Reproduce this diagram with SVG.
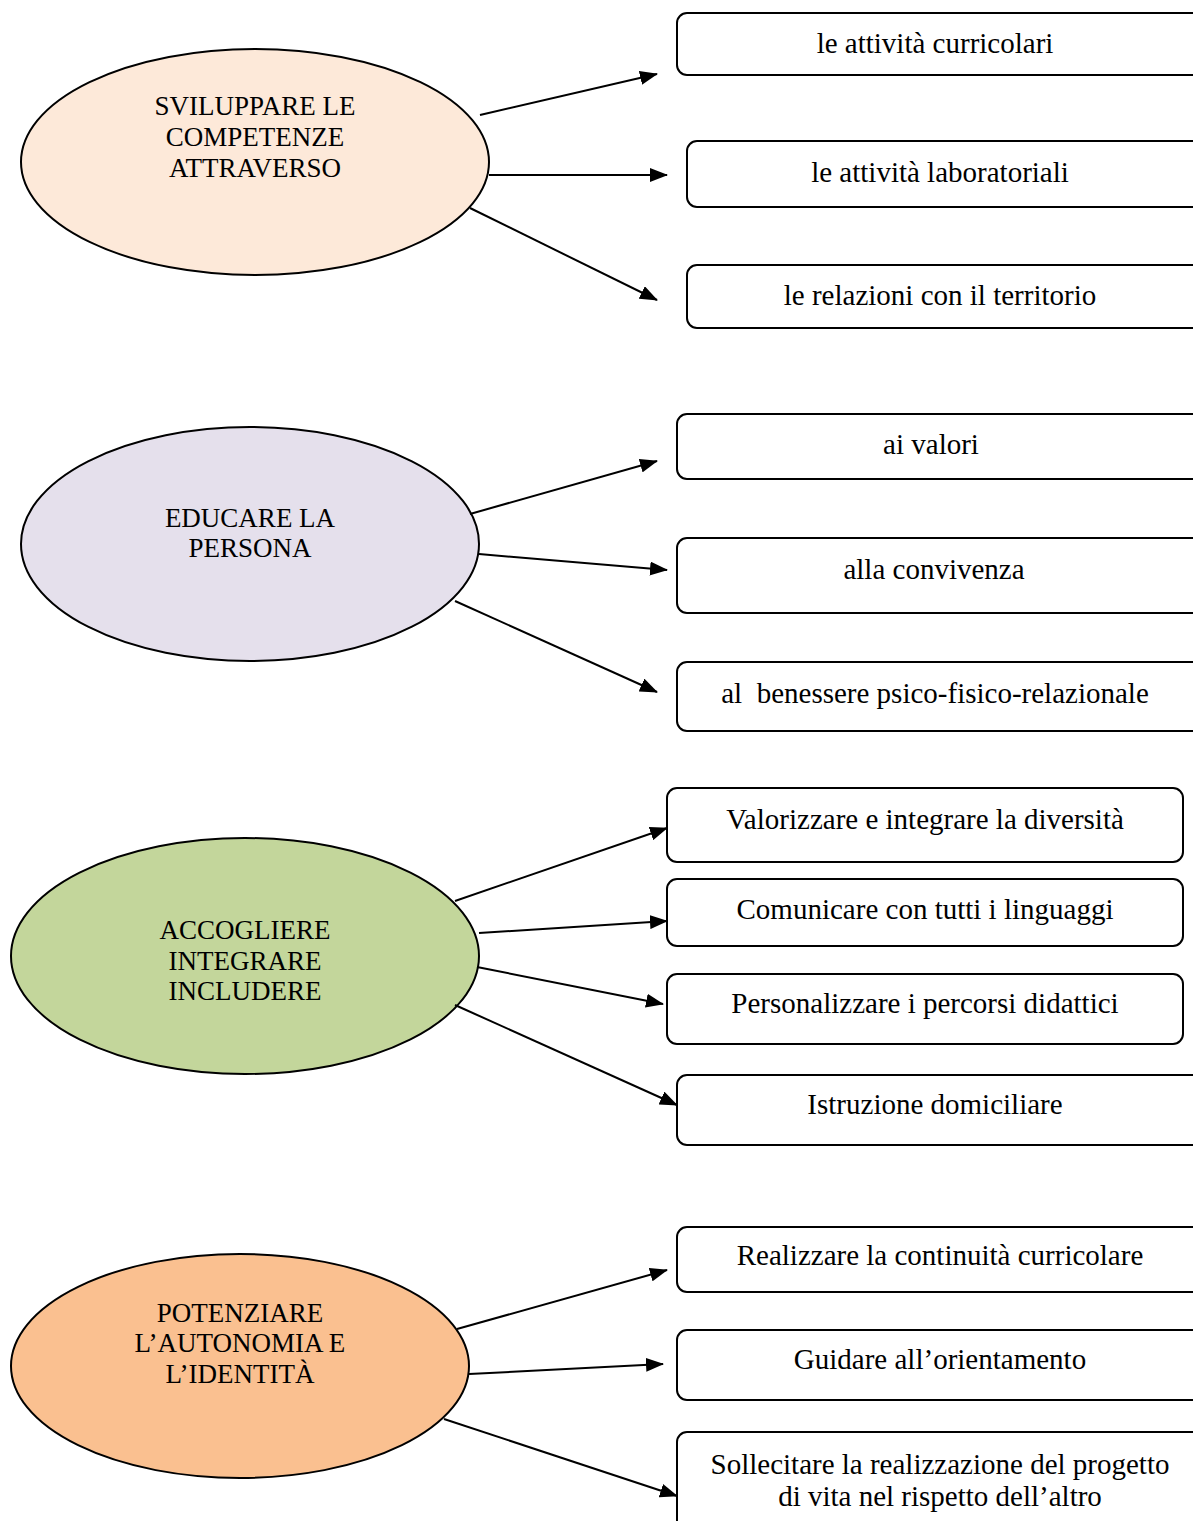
<svg xmlns="http://www.w3.org/2000/svg" width="1193" height="1521" viewBox="0 0 1193 1521">
<style>
.ell{stroke:#000;stroke-width:2}
.box{fill:#fff;stroke:#000;stroke-width:2}
.et{font-family:"Liberation Serif","Times New Roman",serif;font-size:27px;fill:#000;text-anchor:middle}
.bt{font-family:"Liberation Serif","Times New Roman",serif;font-size:29px;fill:#000;text-anchor:middle}
.con line{stroke:#000;stroke-width:2;marker-end:url(#ah)}
</style>
<defs>
<marker id="ah" viewBox="0 0 18 14" refX="17" refY="7" markerWidth="18" markerHeight="14" markerUnits="userSpaceOnUse" orient="auto">
<path d="M0,0 L18,7 L0,14 z" fill="#000"/>
</marker>
</defs>
<rect width="1193" height="1521" fill="#fff"/>

<g id="n1"><ellipse class="ell" cx="255" cy="162" rx="234" ry="113" fill="#fde9d9"/>
<text class="et" x="255" y="115">SVILUPPARE LE</text><text class="et" x="255" y="146">COMPETENZE</text><text class="et" x="255" y="177">ATTRAVERSO</text></g>
<g id="n2"><ellipse class="ell" cx="250" cy="544" rx="229" ry="117" fill="#e5e0ec"/>
<text class="et" x="250" y="527">EDUCARE LA</text><text class="et" x="250" y="557">PERSONA</text></g>
<g id="n3"><ellipse class="ell" cx="245" cy="956" rx="234" ry="118" fill="#c3d69b"/>
<text class="et" x="245" y="939">ACCOGLIERE</text><text class="et" x="245" y="970">INTEGRARE</text><text class="et" x="245" y="1000">INCLUDERE</text></g>
<g id="n4"><ellipse class="ell" cx="240" cy="1366" rx="229" ry="112" fill="#fac090"/>
<text class="et" x="240" y="1322">POTENZIARE</text><text class="et" x="240" y="1352">L’AUTONOMIA E</text><text class="et" x="240" y="1383">L’IDENTITÀ</text></g>

<g id="b1"><rect class="box" x="677" y="13" width="530" height="62" rx="10"/><text class="bt" x="935" y="53">le attività curricolari</text></g>
<g id="b2"><rect class="box" x="687" y="141" width="520" height="66" rx="10"/><text class="bt" x="940" y="182">le attività laboratoriali</text></g>
<g id="b3"><rect class="box" x="687" y="265" width="520" height="63" rx="10"/><text class="bt" x="940" y="305">le relazioni con il territorio</text></g>
<g id="b4"><rect class="box" x="677" y="414" width="530" height="65" rx="10"/><text class="bt" x="931" y="454">ai valori</text></g>
<g id="b5"><rect class="box" x="677" y="538" width="530" height="75" rx="10"/><text class="bt" x="934" y="579">alla convivenza</text></g>
<g id="b6"><rect class="box" x="677" y="662" width="530" height="69" rx="10"/><text class="bt" x="935" y="703" xml:space="preserve">al  benessere psico-fisico-relazionale</text></g>
<g id="b7"><rect class="box" x="667" y="788" width="516" height="74" rx="10"/><text class="bt" x="925" y="829">Valorizzare e integrare la diversità</text></g>
<g id="b8"><rect class="box" x="667" y="879" width="516" height="67" rx="10"/><text class="bt" x="925" y="919">Comunicare con tutti i linguaggi</text></g>
<g id="b9"><rect class="box" x="667" y="974" width="516" height="70" rx="10"/><text class="bt" x="925" y="1013">Personalizzare i percorsi didattici</text></g>
<g id="b10"><rect class="box" x="677" y="1075" width="530" height="70" rx="10"/><text class="bt" x="935" y="1114">Istruzione domiciliare</text></g>
<g id="b11"><rect class="box" x="677" y="1227" width="530" height="65" rx="10"/><text class="bt" x="940" y="1265">Realizzare la continuità curricolare</text></g>
<g id="b12"><rect class="box" x="677" y="1330" width="530" height="70" rx="10"/><text class="bt" x="940" y="1369">Guidare all’orientamento</text></g>
<g id="b13"><rect class="box" x="677" y="1432" width="530" height="110" rx="10"/><text class="bt" x="940" y="1474">Sollecitare la realizzazione del progetto</text><text class="bt" x="940" y="1506">di vita nel rispetto dell’altro</text></g>

<g id="connectors" class="con">
<line x1="480" y1="115" x2="657" y2="74"/>
<line x1="489" y1="175" x2="667" y2="175"/>
<line x1="470" y1="208" x2="657" y2="300"/>
<line x1="470" y1="514" x2="657" y2="461"/>
<line x1="479" y1="554" x2="667" y2="570"/>
<line x1="455" y1="601" x2="657" y2="692"/>
<line x1="455" y1="901" x2="667" y2="828"/>
<line x1="479" y1="933" x2="667" y2="921"/>
<line x1="477" y1="967" x2="663" y2="1004"/>
<line x1="455" y1="1005" x2="677" y2="1105"/>
<line x1="457" y1="1329" x2="667" y2="1270"/>
<line x1="469" y1="1374" x2="663" y2="1364"/>
<line x1="444" y1="1419" x2="677" y2="1496"/>
</g>
</svg>
